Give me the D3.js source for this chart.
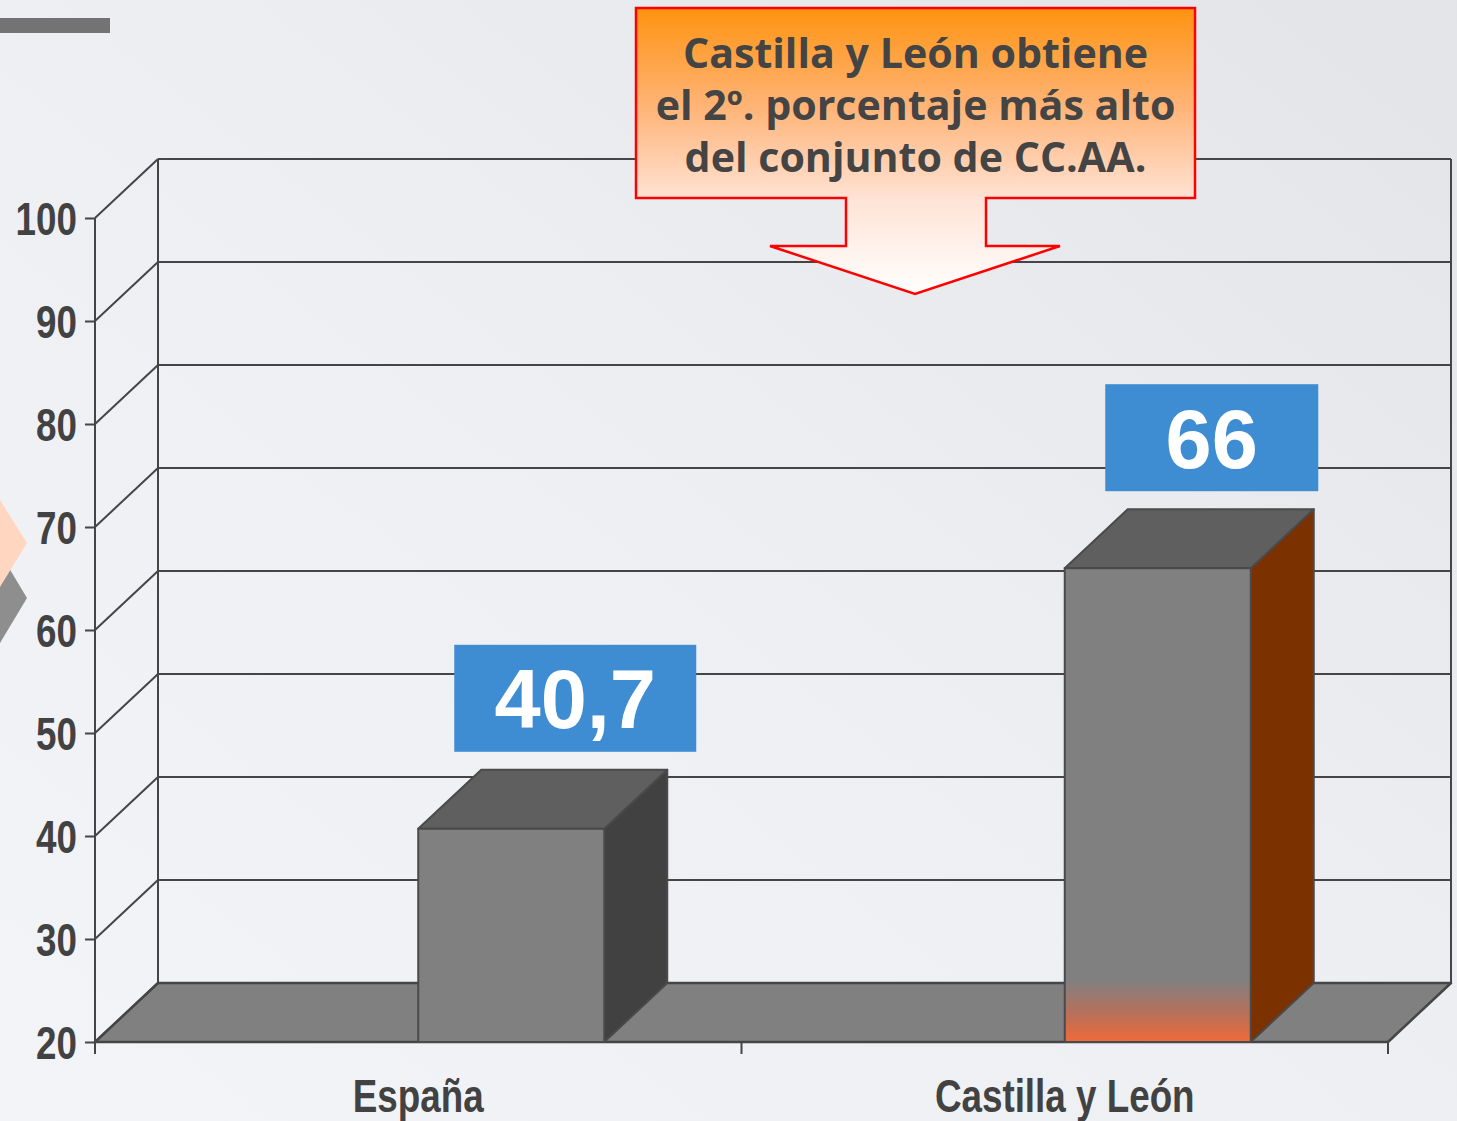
<!DOCTYPE html>
<html>
<head>
<meta charset="utf-8">
<script src="https://cdn.jsdelivr.net/npm/d3@7/dist/d3.min.js"></script>
<style>
  html, body { margin: 0; padding: 0; overflow: hidden; }
  svg { display: block; }
</style>
</head>
<body>
<svg id="chart" width="1457" height="1121"></svg>
<script>
// ---------------- data ----------------
const categories = ["España", "Castilla y León"];
const values = [40.7, 66];
const valueLabels = ["40,7", "66"];
const yTicks = [20, 30, 40, 50, 60, 70, 80, 90, 100];
const calloutLines = ["Castilla y León obtiene", "el 2º. porcentaje más alto", "del conjunto de CC.AA."];

// ---------------- layout ----------------
const W = 1457, H = 1121;
const frontLeft = 95, frontRight = 1388;
const yBottom = 1042, yTop = 218;
const DX = 63, DY = -59;          // 3D depth offset
const barWidth = 186;
const axisColor = "#454545";
const textColor = "#424242";
const narrow = "'Liberation Sans', Arial, sans-serif";
const narrowFactor = 0.80;

const svg = d3.select("#chart");
const defs = svg.append("defs");

function condense(sel) {
  sel.each(function () {
    const w = this.getComputedTextLength();
    d3.select(this).attr("textLength", w * narrowFactor).attr("lengthAdjust", "spacingAndGlyphs");
  });
}

// background gradient
const bg = defs.append("linearGradient").attr("id", "bg")
  .attr("x1", "0").attr("y1", "1").attr("x2", "1").attr("y2", "0");
bg.append("stop").attr("offset", "0").attr("stop-color", "#f3f4f8");
bg.append("stop").attr("offset", "0.5").attr("stop-color", "#eeeff3");
bg.append("stop").attr("offset", "1").attr("stop-color", "#e2e4e8");
svg.append("rect").attr("width", W).attr("height", H).attr("fill", "url(#bg)");

// decorative elements
svg.append("rect").attr("x", 0).attr("y", 18).attr("width", 110).attr("height", 15).attr("fill", "#737373");
svg.append("polygon").attr("points", "-27,598 0,553 27,598 0,643").attr("fill", "#8e8e8e");
svg.append("polygon").attr("points", "-27,543 0,500 27,543 0,587").attr("fill", "#ffd6c0");

// scales
const y = d3.scaleLinear().domain([20, 100]).range([yBottom, yTop]);
const x = d3.scaleBand().domain(categories).range([frontLeft, frontRight]).padding(0);

const g = svg.append("g");

// floor
const y0 = y(20);
g.append("polygon")
  .attr("points", [[frontLeft, y0], [frontRight, y0], [frontRight + DX, y0 + DY], [frontLeft + DX, y0 + DY]].map(p => p.join(",")).join(" "))
  .attr("fill", "#808080").attr("stroke", axisColor).attr("stroke-width", 2.5).attr("stroke-linejoin", "round");

// back wall gridlines
g.selectAll("line.grid").data(yTicks.filter(t => t > 20)).join("line")
  .attr("class", "grid")
  .attr("x1", frontLeft + DX).attr("x2", frontRight + DX)
  .attr("y1", d => y(d) + DY).attr("y2", d => y(d) + DY)
  .attr("stroke", axisColor).attr("stroke-width", 2);
// side wall diagonals
g.selectAll("line.diag").data(yTicks).join("line")
  .attr("class", "diag")
  .attr("x1", frontLeft).attr("x2", frontLeft + DX)
  .attr("y1", d => y(d)).attr("y2", d => y(d) + DY)
  .attr("stroke", axisColor).attr("stroke-width", 2);
// back wall verticals
g.append("line").attr("x1", frontLeft + DX).attr("x2", frontLeft + DX)
  .attr("y1", y(100) + DY).attr("y2", y(20) + DY).attr("stroke", axisColor).attr("stroke-width", 2);
g.append("line").attr("x1", frontRight + DX).attr("x2", frontRight + DX)
  .attr("y1", y(100) + DY).attr("y2", y(20) + DY).attr("stroke", axisColor).attr("stroke-width", 2);

// y axis
const yAxis = d3.axisLeft(y).tickValues(yTicks).tickSize(10).tickPadding(8).tickFormat(d3.format("d"));
const ya = g.append("g").attr("transform", `translate(${frontLeft},0)`).call(yAxis);
ya.select(".domain").remove();
ya.selectAll(".tick line").attr("stroke", axisColor).attr("stroke-width", 2);
ya.selectAll(".tick text")
  .attr("fill", textColor).attr("font-family", narrow).attr("font-weight", "bold")
  .attr("font-size", 46).attr("dy", "0.36em")
  .call(condense);
g.append("line").attr("x1", frontLeft).attr("x2", frontLeft)
  .attr("y1", y(100)).attr("y2", y(20) + 12).attr("stroke", axisColor).attr("stroke-width", 2);

// x axis baseline ticks at band boundaries
const boundaries = categories.map(c => x(c)).concat([x(categories[categories.length - 1]) + x.bandwidth()]);
g.selectAll("line.xtick").data(boundaries).join("line")
  .attr("class", "xtick")
  .attr("x1", d => d).attr("x2", d => d)
  .attr("y1", y0).attr("y2", y0 + 12)
  .attr("stroke", axisColor).attr("stroke-width", 2);
g.selectAll("text.xlab").data(categories).join("text")
  .attr("class", "xlab")
  .attr("x", d => x(d) + x.bandwidth() / 2).attr("y", y0 + 70)
  .attr("text-anchor", "middle").attr("fill", textColor)
  .attr("font-family", narrow).attr("font-weight", "bold").attr("font-size", 46)
  .text(d => d)
  .call(condense);

// bar gradient for Castilla front face
const og = defs.append("linearGradient").attr("id", "orangeFront")
  .attr("x1", 0).attr("y1", 0).attr("x2", 0).attr("y2", 1).attr("gradientUnits", "objectBoundingBox");
og.append("stop").attr("offset", "0").attr("stop-color", "#808080");
og.append("stop").attr("offset", "0.87").attr("stop-color", "#808080");
og.append("stop").attr("offset", "0.94").attr("stop-color", "#b8705a");
og.append("stop").attr("offset", "1").attr("stop-color", "#f06a38");

const faceStyles = [
  { front: "#808080", side: "#414141", top: "#5f5f5f" },
  { front: "url(#orangeFront)", side: "#7b3100", top: "#5f5f5f" }
];

const bars = g.selectAll("g.bar").data(categories.map((c, i) => ({ c, v: values[i], i }))).join("g").attr("class", "bar");
bars.each(function (d) {
  const sel = d3.select(this);
  const xl = x(d.c) + x.bandwidth() / 2;
  const xr = xl + barWidth;
  const yt = y(d.v), yb = y(20);
  const st = faceStyles[d.i];
  const pts = a => a.map(p => p.join(",")).join(" ");
  sel.append("polygon").attr("points", pts([[xr, yt], [xr + DX, yt + DY], [xr + DX, yb + DY], [xr, yb]]))
    .attr("fill", st.side).attr("stroke", "#4a4a4a").attr("stroke-width", 2).attr("stroke-linejoin", "round");
  sel.append("polygon").attr("points", pts([[xl, yt], [xl + DX, yt + DY], [xr + DX, yt + DY], [xr, yt]]))
    .attr("fill", st.top).attr("stroke", "#4a4a4a").attr("stroke-width", 2).attr("stroke-linejoin", "round");
  sel.append("rect").attr("x", xl).attr("y", yt).attr("width", barWidth).attr("height", yb - yt)
    .attr("fill", st.front).attr("stroke", "#4a4a4a").attr("stroke-width", 2);
});

// value label boxes
const labelBoxW = [242, 213];
const labelOffsetX = [0, -10];
const labelBoxH = 107;
const labels = g.selectAll("g.vlab").data(categories.map((c, i) => ({ c, v: values[i], t: valueLabels[i], i }))).join("g").attr("class", "vlab");
labels.each(function (d) {
  const sel = d3.select(this);
  const cx = x(d.c) + x.bandwidth() / 2 + DX + barWidth / 2 + 1 + labelOffsetX[d.i];
  const bottom = y(d.v) + DY - 18;
  sel.append("rect").attr("x", cx - labelBoxW[d.i] / 2).attr("y", bottom - labelBoxH)
    .attr("width", labelBoxW[d.i]).attr("height", labelBoxH).attr("fill", "#3e8dd3");
  sel.append("text").attr("x", cx).attr("y", bottom - labelBoxH / 2 + 30)
    .attr("text-anchor", "middle").attr("fill", "#ffffff")
    .attr("font-family", "'Liberation Sans', Arial, sans-serif").attr("font-weight", "bold")
    .attr("font-size", 83).text(d.t);
});

// callout arrow
const cg = defs.append("linearGradient").attr("id", "callout")
  .attr("x1", 0).attr("y1", 0).attr("x2", 0).attr("y2", 1);
cg.append("stop").attr("offset", "0").attr("stop-color", "#ff9310");
cg.append("stop").attr("offset", "0.35").attr("stop-color", "#ffb478");
cg.append("stop").attr("offset", "0.67").attr("stop-color", "#ffe3d6");
cg.append("stop").attr("offset", "1").attr("stop-color", "#ffffff");

const cL = 636, cR = 1195, cT = 8, cB = 198, sL = 846, sR = 986, hY = 246, hL = 770, hR = 1060, tipX = 915, tipY = 294;
svg.append("polygon")
  .attr("points", [[cL, cT], [cR, cT], [cR, cB], [sR, cB], [sR, hY], [hR, hY], [tipX, tipY], [hL, hY], [sL, hY], [sL, cB], [cL, cB]].map(p => p.join(",")).join(" "))
  .attr("fill", "url(#callout)").attr("stroke", "#ff0000").attr("stroke-width", 2.5);

const ct = svg.append("g");
const lineTexts = ct.selectAll("text").data(calloutLines).join("text")
  .attr("x", (cL + cR) / 2).attr("y", (d, i) => 68 + i * 52)
  .attr("text-anchor", "middle").attr("fill", "#444444")
  .attr("font-family", "'Open Sans', 'DejaVu Sans', sans-serif").attr("font-weight", 700)
  .attr("font-size", 40).text(d => d);
// fit font size so middle line spans ~520 px
const w2 = lineTexts.nodes()[1].getComputedTextLength();
const fs = Math.min(44, 40 * 520 / w2);
lineTexts.attr("font-size", fs);
</script>
</body>
</html>
